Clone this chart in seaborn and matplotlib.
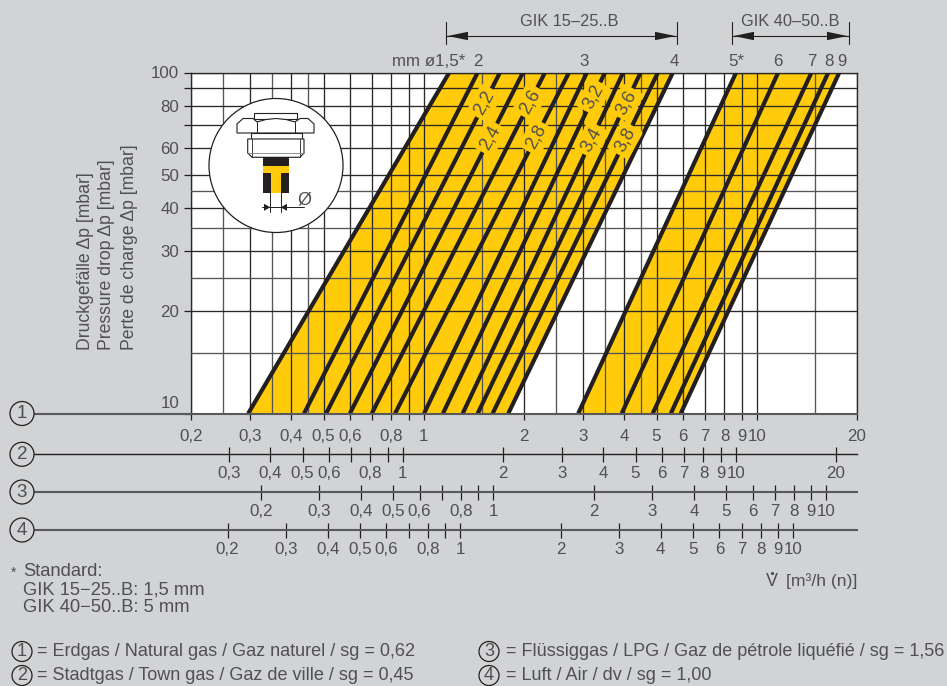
import numpy as np
import pandas as pd
import seaborn as sns
import matplotlib.pyplot as plt
from matplotlib.patches import Circle, Polygon, Rectangle
from matplotlib.ticker import NullLocator

# bore diameters and flow (scale 1) where each line meets dp = 10 and dp = 100 mbar
bores_small = ['1,5', '2', '2,2', '2,4', '2,6', '2,8', '3', '3,2', '3,4', '3,6', '3,8', '4']
flow_small_10 = [0.297, 0.437, 0.509, 0.600, 0.698, 0.82, 1.002, 1.142, 1.309, 1.452, 1.61, 1.794]
flow_small_100 = [1.193, 1.452, 1.694, 1.986, 2.312, 2.73, 3.09, 3.50, 3.97, 4.48, 5.05, 5.6]
bores_large = ['5', '6', '7', '8', '9']
flow_large_10 = [2.91, 3.93, 4.87, 5.52, 5.91]
flow_large_100 = [8.67, 11.6, 14.6, 16.4, 17.7]

top_labels_small = ['2', '3', '4']
top_flows_small = [1.452, 3.03, 5.65]
top_labels_large = ['5*', '6', '7', '8', '9']
top_flows_large = [8.7, 11.6, 14.6, 16.5, 18.0]

# inline labels: bore, dp where the label sits on its line
inline_bores = ['2,2', '2,4', '2,6', '2,8', '3,2', '3,4', '3,6', '3,8']
inline_dp = [81.4, 64.3, 82.0, 64.6, 84.8, 63.4, 81.4, 63.4]

dp_major = [10, 20, 30, 40, 50, 60, 70, 80, 90, 100]
dp_labels = ['', '20', '30', '40', '50', '60', '', '80', '', '100']
dp_minor = [15, 25, 35, 45]
flow_major = [0.2, 0.3, 0.4, 0.5, 0.6, 0.7, 0.8, 0.9, 1, 2, 3, 4, 5, 6, 7, 8, 9, 10, 20]
flow_minor = [0.25, 0.35, 0.45, 1.5, 2.5, 3.5, 4.5, 15]

scale1_ticks = [0.2, 0.3, 0.4, 0.5, 0.6, 0.7, 0.8, 0.9, 1, 2, 3, 4, 5, 6, 7, 8, 9, 10, 20]
scale1_labels = ['0,2', '0,3', '0,4', '0,5', '0,6', '', '0,8', '', '1', '2', '3', '4', '5', '6', '7', '8', '9', '10', '20']
scale2_ticks = scale1_ticks[1:]
scale2_labels = scale1_labels[1:]
scale3_ticks = scale1_ticks[:-1]
scale3_labels = scale1_labels[:-1]
scale4_ticks = scale1_ticks[:-1]
scale4_labels = scale1_labels[:-1]

BG = '#d1d3d4'
YELLOW = '#ffcb0a'
INK = '#231f20'
TXT = '#505052'
W, H = 947, 686
FS = 12.2

sns.set_theme(style='white', rc={'figure.facecolor': BG, 'savefig.facecolor': BG})
plt.rcParams['font.family'] = ['Liberation Sans', 'DejaVu Sans']
plt.rcParams['text.color'] = TXT

fig = plt.figure(figsize=(W / 100, H / 100), dpi=100)


def px_axes(x0, x1, y0, y1):
    # y0 top, y1 bottom, all in image pixels
    return fig.add_axes([x0 / W, 1 - y1 / H, (x1 - x0) / W, (y1 - y0) / H])


ax = px_axes(191, 857, 72.5, 413.5)
ax.set_xscale('log')
ax.set_yscale('log')
ax.set_xlim(0.2, 20)
ax.set_ylim(10, 100)

# yellow bands
ax.fill(flow_small_10[0:1] + flow_small_100[0:1] + flow_small_100[-1:] + flow_small_10[-1:],
        [10, 100, 100, 10], color=YELLOW, lw=0, zorder=1)
ax.fill(flow_large_10[0:1] + flow_large_100[0:1] + flow_large_100[-1:] + flow_large_10[-1:],
        [10, 100, 100, 10], color=YELLOW, lw=0, zorder=1)

rows = []
for b, lo, hi in zip(bores_small + bores_large, flow_small_10 + flow_large_10, flow_small_100 + flow_large_100):
    rows.append({'bore': b, 'flow': lo, 'dp': 10})
    rows.append({'bore': b, 'flow': hi, 'dp': 100})
df = pd.DataFrame(rows)
sns.lineplot(data=df, x='flow', y='dp', units='bore', estimator=None, color=INK, lw=3.0,
             solid_capstyle='butt', legend=False, zorder=3, ax=ax)
ax.set_xlabel('')
ax.set_ylabel('')

ax.set_xticks(flow_major, labels=[''] * len(flow_major))
ax.set_xticks(flow_minor, labels=[''] * len(flow_minor), minor=True)
ax.set_yticks(dp_major, labels=dp_labels)
ax.set_yticks(dp_minor, labels=[''] * len(dp_minor), minor=True)
ax.set_axisbelow(False)
ax.grid(True, which='major', color='#2b2829', lw=0.95, zorder=2)
ax.grid(True, which='minor', color='#555557', lw=0.95, zorder=2)
ax.tick_params(axis='x', which='both', length=0)
ax.tick_params(axis='y', which='minor', length=0)
ax.tick_params(axis='y', which='major', length=5.2, width=0.9, color=INK, pad=3.2,
               labelsize=FS, labelcolor=TXT, left=True)
for s in ax.spines.values():
    s.set_color('#2b2829')
    s.set_linewidth(0.95)
    s.set_visible(True)
ax.spines['bottom'].set_visible(False)

# labels on the lines
for name, dp in zip(inline_bores, inline_dp):
    i = bores_small.index(name)
    t = np.log10(dp / 10)
    fl = 10 ** ((1 - t) * np.log10(flow_small_10[i]) + t * np.log10(flow_small_100[i]))
    ax.text(fl, dp, name, rotation=61, rotation_mode='anchor', ha='center', va='center', fontsize=FS + 0.8,
            color=TXT, zorder=5,
            bbox=dict(facecolor=YELLOW, edgecolor='none', boxstyle='round,pad=0.2'))

# top labels follow the lines
for name, fl in zip(top_labels_small + top_labels_large, top_flows_small + top_flows_large):
    ax.annotate(name, (fl, 100), xytext=(0, 2.8), textcoords='offset points', ha='center', va='bottom',
                fontsize=FS, color=TXT, annotation_clip=False)


# flow scales under the plot, one log axis per gas
def flow_scale(y_px, shift, ticks, labels, tick_up, tick_down, pad, lw, color):
    s = px_axes(34, 857, y_px - 0.05, y_px + 0.05)
    s.patch.set_visible(False)
    s.set_xscale('log')
    s.set_xlim(0.2 * 10 ** ((34 - 191 - shift) / 333), 0.2 * 10 ** ((857 - 191 - shift) / 333))
    s.set_yticks([])
    s.set_xticks(ticks, labels=labels)
    s.xaxis.set_minor_locator(NullLocator())
    for k, sp in s.spines.items():
        sp.set_visible(k == 'bottom')
    s.spines['bottom'].set_color(color)
    s.spines['bottom'].set_linewidth(lw)
    s.tick_params(axis='x', which='major', bottom=True, direction='inout', length=(tick_up + tick_down) * 0.72,
                  width=0.9, color=INK, pad=pad, labelsize=FS, labelcolor=TXT)
    if tick_up == 0:
        s.tick_params(axis='x', direction='out', length=tick_down * 0.72)
    return s


flow_scale(413.5, 0, scale1_ticks, scale1_labels, 0, 6, 6.8, 1.5, '#58595b')
flow_scale(454.3, -21, scale2_ticks, scale2_labels, 7.5, 7.5, 3.0, 1.0, INK)
flow_scale(492, 69.7, scale3_ticks, scale3_labels, 7.5, 7.5, 3.0, 1.5, '#58595b')
flow_scale(530, 36.5, scale4_ticks, scale4_labels, 7.5, 7.5, 3.0, 1.5, '#58595b')

# overlay in image pixels for annotation work
ov = fig.add_axes([0, 0, 1, 1], zorder=10)
ov.set_xlim(0, W)
ov.set_ylim(H, 0)
ov.axis('off')


def label(x, y, s, ha='left', va='center', fs=FS, **kw):
    ov.text(x, y, s, ha=ha, va=va, fontsize=fs, color=TXT, **kw)


label(179, 404, '10', ha='right')
label(465, 61, 'mm ø1,5*', ha='right', fs=FS)

label(85, 350, 'Druckgefälle Δp [mbar]', ha='center', va='bottom', rotation=90, fs=12.7)
label(106.7, 350, 'Pressure drop Δp [mbar]', ha='center', va='bottom', rotation=90, fs=12.7)
label(129, 350, 'Perte de charge Δp [mbar]', ha='center', va='bottom', rotation=90, fs=12.7)

# range brackets
for x0, x1, txt, xt in [(446, 677, 'GIK 15–25..B', 569), (732, 849, 'GIK 40–50..B', 790.5)]:
    ov.plot([x0, x0], [22, 44], color=INK, lw=0.8)
    ov.plot([x1, x1], [22, 44], color=INK, lw=0.8)
    ov.plot([x0, x1], [36, 36], color=INK, lw=0.8)
    ov.add_patch(Polygon([(x0 + 1.5, 36), (x0 + 22, 31.8), (x0 + 22, 40.2)], color=INK, lw=0))
    ov.add_patch(Polygon([(x1 - 1.5, 36), (x1 - 22, 31.8), (x1 - 22, 40.2)], color=INK, lw=0))
    label(xt, 22, txt, ha='center', fs=11.8)

# scale numbers
for y, n in zip([413.5, 454.3, 492, 530], '1234'):
    ov.add_patch(Circle((22, y), 12, facecolor=BG, edgecolor=INK, lw=0.9, zorder=3))
    label(22, y + 0.5, n, ha='center', fs=13.5, zorder=4)

# nozzle inset
ov.add_patch(Circle((276, 165.5), 67, facecolor='white', edgecolor=INK, lw=0.9))
line_kw = dict(edgecolor=INK, facecolor='white', lw=0.8)
ov.add_patch(Rectangle((254.3, 113), 43, 6, **line_kw))
ov.add_patch(Polygon([(237, 133), (237, 124), (243, 118.5), (253, 118.5), (257, 122), (266, 119.5), (276, 118.5),
                      (286, 119.5), (295, 122), (300, 118.5), (308, 118.5), (314, 124), (314, 133)], **line_kw))
ov.plot([256.7, 256.7], [122, 133], color=INK, lw=0.7)
ov.plot([295, 295], [122, 133], color=INK, lw=0.7)
ov.add_patch(Rectangle((251, 133), 50.7, 6, **line_kw))
ov.add_patch(Polygon([(247.7, 139), (304, 139), (304, 153), (300, 157.3), (252, 157.3), (247.7, 153)], **line_kw))
ov.plot([252, 252], [139, 157.3], color=INK, lw=0.6)
ov.plot([300, 300], [139, 157.3], color=INK, lw=0.6)
ov.plot([247.7, 304], [153, 153], color='#808285', lw=0.6)
ov.add_patch(Rectangle((262.7, 157.3), 26.6, 8.4, color=INK, lw=0))
ov.add_patch(Rectangle((262.7, 165.7), 26.6, 27.6, color=YELLOW, lw=0))
ov.add_patch(Rectangle((262.7, 173.3), 8.3, 20, color=INK, lw=0))
ov.add_patch(Rectangle((280.7, 173.3), 8.6, 20, color=INK, lw=0))
ov.plot([270.3, 270.3], [173, 211.7], color=INK, lw=0.7)
ov.plot([280.7, 280.7], [173, 211.7], color=INK, lw=0.7)
ov.plot([262, 304], [207.3, 207.3], color=INK, lw=0.7)
ov.add_patch(Polygon([(270.3, 207.3), (264, 203.8), (264, 210.8)], color=INK, lw=0))
ov.add_patch(Polygon([(280.7, 207.3), (287, 203.8), (287, 210.8)], color=INK, lw=0))
label(297, 200, 'Ø', fs=13)

# footnotes
label(11, 573, '*', fs=10)
label(23, 571, 'Standard:', fs=13.2)
label(23, 590, 'GIK 15−25..B: 1,5 mm', fs=13.2)
label(23, 608, 'GIK 40−50..B: 5 mm', fs=13.2)

label(771.7, 582, 'V', ha='center', fs=13)
ov.plot([771.7], [573], 'o', color=TXT, ms=1.3)
label(857, 581, '[m³/h (n)]', ha='right', fs=12.6)

legend_rows = [(22, 651.5, '1', '= Erdgas / Natural gas / Gaz naturel / sg = 0,62', 37),
               (22, 675.5, '2', '= Stadtgas / Town gas / Gaz de ville / sg = 0,45', 37),
               (489, 651.5, '3', '= Flüssiggas / LPG / Gaz de pétrole liquéfié / sg = 1,56', 506),
               (489, 675.5, '4', '= Luft / Air / dv / sg = 1,00', 506)]
for x, y, n, txt, xt in legend_rows:
    ov.add_patch(Circle((x, y), 10, facecolor='none', edgecolor=INK, lw=0.9))
    label(x, y + 0.5, n, ha='center', fs=13)
    label(xt, y, txt, fs=13)

fig.savefig('out.png', dpi=100)
